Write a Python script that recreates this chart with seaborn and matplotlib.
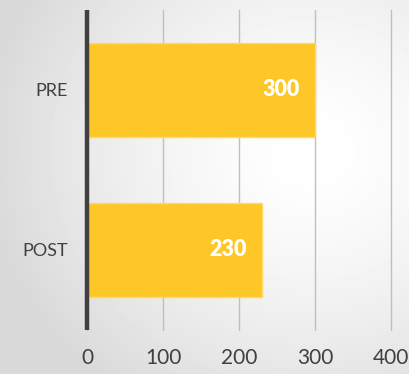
import numpy as np
import matplotlib
matplotlib.use("Agg")
import matplotlib.pyplot as plt
import seaborn as sns
import pandas as pd

categories = ["PRE", "POST"]
values = [300, 230]
x_ticks = [0, 100, 200, 300, 400]

df = pd.DataFrame({"Phase": categories, "Score": values})

sns.set_style("white")
plt.rcParams["font.family"] = ["Lato", "DejaVu Sans"]

fig = plt.figure(figsize=(4.10, 3.74), dpi=100)

# soft radial background like the original slide
bg = fig.add_axes([0, 0, 1, 1], zorder=0)
yy, xx = np.mgrid[0:374, 0:410]
r = np.hypot((xx - 310) / 410, (yy - 150) / 374)
shade = 1 - 0.15 * np.clip(r / 0.8, 0, 1) ** 1.5
bg.imshow(shade, cmap="gray", vmin=0, vmax=1, aspect="auto")
bg.axis("off")

ax = fig.add_axes([87 / 410, 44 / 374, 304 / 410, 320 / 374], zorder=1)
ax.patch.set_alpha(0)

sns.barplot(data=df, x="Score", y="Phase", orient="h", color="#FEC626",
            width=0.59, saturation=1, edgecolor="#FFD966", linewidth=1,
            ax=ax, zorder=3)

texts = ax.bar_label(ax.containers[0], padding=-11, color="white",
                     fontsize=15.5, fontweight="heavy")
for t in texts:
    t.set_ha("right")

ax.set_xlim(0, 400)
ax.set_ylim(1.5, -0.5)
ax.set_xticks(x_ticks)
ax.set_xticklabels([str(v) for v in x_ticks], fontsize=15, color="#404040")
ax.tick_params(axis="x", length=0, pad=13)
ax.tick_params(axis="y", length=0, pad=14, labelsize=13, labelcolor="#404040")
ax.set_xlabel("")
ax.set_ylabel("")
ax.grid(axis="x", color="#BFBFBF", linewidth=1, zorder=0)
ax.grid(axis="y", visible=False)
for s in ax.spines.values():
    s.set_visible(False)
ax.axvline(0, color="#404040", linewidth=3.2, zorder=4, clip_on=False,
           solid_capstyle="butt")
for gl in ax.get_xgridlines():
    gl.set_clip_on(False)

fig.savefig("out.png", dpi=100)
